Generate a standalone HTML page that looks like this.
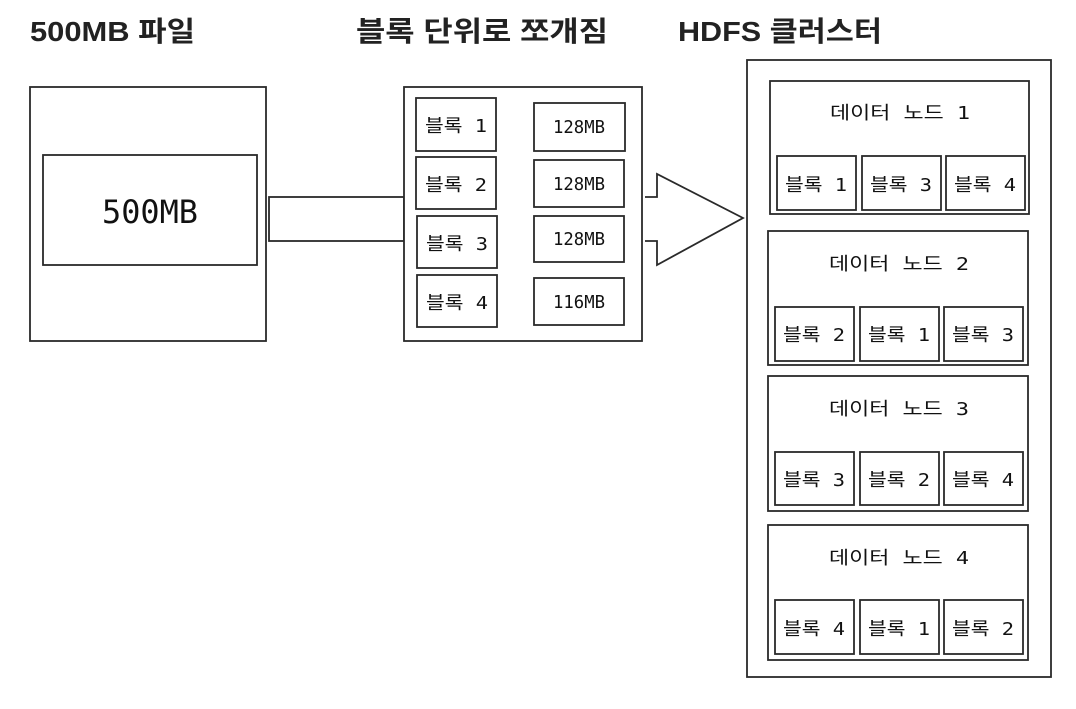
<!DOCTYPE html>
<html><head><meta charset="utf-8"><style>
html,body{margin:0;padding:0;background:#fff;}
svg{display:block}
.t{font-family:"Liberation Sans","Noto Sans CJK KR",sans-serif;font-weight:bold;font-size:28px;fill:#222;}
.m{font-family:"DejaVu Sans Mono","Noto Sans CJK KR",monospace;font-size:18px;fill:#111;}
rect,path{fill:#fff;stroke:#2a2a2a;stroke-width:1.8;}
</style></head><body>
<svg width="1076" height="709" viewBox="0 0 1076 709" xmlns="http://www.w3.org/2000/svg">
<text class="t" x="30" y="41" textLength="165" lengthAdjust="spacingAndGlyphs">500MB 파일</text>
<text class="t" x="356" y="41" textLength="252" lengthAdjust="spacingAndGlyphs">블록 단위로 쪼개짐</text>
<text class="t" x="678" y="41" textLength="204" lengthAdjust="spacingAndGlyphs">HDFS 클러스터</text>

<rect x="30" y="87" width="236" height="254"/>
<rect x="43" y="155" width="214" height="110"/>
<text class="m" x="150" y="223" text-anchor="middle" style="font-size:32px" textLength="96" lengthAdjust="spacingAndGlyphs">500MB</text>
<rect x="269" y="197" width="135" height="44"/>

<rect x="404" y="87" width="238" height="254"/>
<rect x="416" y="98" width="80" height="53"/><text class="m" x="456" y="132" text-anchor="middle" textLength="62" lengthAdjust="spacingAndGlyphs">블록 1</text>
<rect x="416" y="157" width="80" height="52"/><text class="m" x="456" y="191" text-anchor="middle" textLength="62" lengthAdjust="spacingAndGlyphs">블록 2</text>
<rect x="417" y="216" width="80" height="52"/><text class="m" x="457" y="250" text-anchor="middle" textLength="62" lengthAdjust="spacingAndGlyphs">블록 3</text>
<rect x="417" y="275" width="80" height="52"/><text class="m" x="457" y="309" text-anchor="middle" textLength="62" lengthAdjust="spacingAndGlyphs">블록 4</text>
<rect x="534" y="103" width="91" height="48"/><text class="m" x="579" y="133" text-anchor="middle" textLength="52" lengthAdjust="spacingAndGlyphs">128MB</text>
<rect x="534" y="160" width="90" height="47"/><text class="m" x="579" y="190" text-anchor="middle" textLength="52" lengthAdjust="spacingAndGlyphs">128MB</text>
<rect x="534" y="216" width="90" height="46"/><text class="m" x="579" y="245" text-anchor="middle" textLength="52" lengthAdjust="spacingAndGlyphs">128MB</text>
<rect x="534" y="278" width="90" height="47"/><text class="m" x="579" y="308" text-anchor="middle" textLength="52" lengthAdjust="spacingAndGlyphs">116MB</text>

<path d="M645 197 L657 197 L657 174 L743 218 L657 265 L657 241 L645 241" />

<rect x="747" y="60" width="304" height="617"/>

<rect x="770" y="81" width="259" height="133"/>
<text class="m" x="900" y="119" text-anchor="middle" textLength="140" lengthAdjust="spacingAndGlyphs">데이터 노드 1</text>
<rect x="777" y="156" width="79" height="54"/><text class="m" x="816" y="191" text-anchor="middle" textLength="62" lengthAdjust="spacingAndGlyphs">블록 1</text>
<rect x="862" y="156" width="79" height="54"/><text class="m" x="901" y="191" text-anchor="middle" textLength="62" lengthAdjust="spacingAndGlyphs">블록 3</text>
<rect x="946" y="156" width="79" height="54"/><text class="m" x="985" y="191" text-anchor="middle" textLength="62" lengthAdjust="spacingAndGlyphs">블록 4</text>

<rect x="768" y="231" width="260" height="134"/>
<text class="m" x="899" y="270" text-anchor="middle" textLength="140" lengthAdjust="spacingAndGlyphs">데이터 노드 2</text>
<rect x="775" y="307" width="79" height="54"/><text class="m" x="814" y="341" text-anchor="middle" textLength="62" lengthAdjust="spacingAndGlyphs">블록 2</text>
<rect x="860" y="307" width="79" height="54"/><text class="m" x="899" y="341" text-anchor="middle" textLength="62" lengthAdjust="spacingAndGlyphs">블록 1</text>
<rect x="944" y="307" width="79" height="54"/><text class="m" x="983" y="341" text-anchor="middle" textLength="62" lengthAdjust="spacingAndGlyphs">블록 3</text>

<rect x="768" y="376" width="260" height="135"/>
<text class="m" x="899" y="415" text-anchor="middle" textLength="140" lengthAdjust="spacingAndGlyphs">데이터 노드 3</text>
<rect x="775" y="452" width="79" height="53"/><text class="m" x="814" y="486" text-anchor="middle" textLength="62" lengthAdjust="spacingAndGlyphs">블록 3</text>
<rect x="860" y="452" width="79" height="53"/><text class="m" x="899" y="486" text-anchor="middle" textLength="62" lengthAdjust="spacingAndGlyphs">블록 2</text>
<rect x="944" y="452" width="79" height="53"/><text class="m" x="983" y="486" text-anchor="middle" textLength="62" lengthAdjust="spacingAndGlyphs">블록 4</text>

<rect x="768" y="525" width="260" height="135"/>
<text class="m" x="899" y="564" text-anchor="middle" textLength="140" lengthAdjust="spacingAndGlyphs">데이터 노드 4</text>
<rect x="775" y="600" width="79" height="54"/><text class="m" x="814" y="635" text-anchor="middle" textLength="62" lengthAdjust="spacingAndGlyphs">블록 4</text>
<rect x="860" y="600" width="79" height="54"/><text class="m" x="899" y="635" text-anchor="middle" textLength="62" lengthAdjust="spacingAndGlyphs">블록 1</text>
<rect x="944" y="600" width="79" height="54"/><text class="m" x="983" y="635" text-anchor="middle" textLength="62" lengthAdjust="spacingAndGlyphs">블록 2</text>
</svg>
</body></html>
